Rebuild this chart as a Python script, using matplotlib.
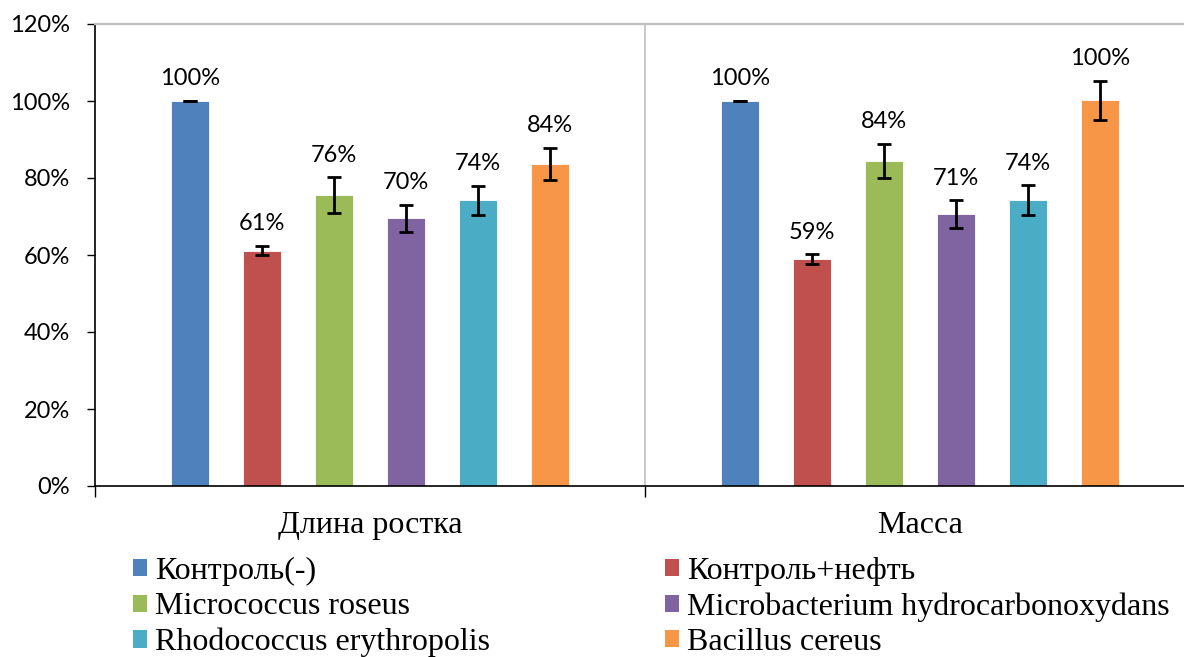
import numpy as np
import matplotlib
matplotlib.use('Agg')
from matplotlib import pyplot as plt
from matplotlib.patches import Patch

categories = ['Длина ростка', 'Масса']
series = ['Контроль(-)', 'Контроль+нефть', 'Micrococcus roseus',
          'Microbacterium hydrocarbonoxydans', 'Rhodococcus erythropolis', 'Bacillus cereus']
colors = ['#4F81BD', '#C0504D', '#9BBB59', '#8064A2', '#4BACC6', '#F79646']

# values, % (rows: series, cols: categories)
values = [[100.0, 100.0],
          [61.1, 58.9],
          [75.6, 84.4],
          [69.6, 70.6],
          [74.2, 74.3],
          [83.6, 100.2]]
errors = [[0.0, 0.0],
          [1.2, 1.3],
          [4.6, 4.5],
          [3.5, 3.6],
          [3.8, 3.8],
          [4.2, 5.1]]
yticks = [0, 20, 40, 60, 80, 100, 120]

num_font = 'Lato'
txt_font = 'Liberation Serif'

fig = plt.figure(figsize=(11.84, 6.57), dpi=100)
W, H = 1184, 657
ax = fig.add_axes([95 / W, (H - 486) / H, 1100 / W, 462 / H])

x = np.arange(len(categories))
slot = 72 / 550
width = 38 / 550
for i, name in enumerate(series):
    xs = x + (i - 2.5) * slot
    ax.bar(xs, values[i], width, color=colors[i], edgecolor='white', linewidth=0.6, zorder=2)
    ax.errorbar(xs, values[i], yerr=errors[i], fmt='none', ecolor='black',
                elinewidth=2, capsize=5, capthick=2, zorder=3)
    for xv, v, e in zip(xs, values[i], errors[i]):
        ax.annotate('{:.0f}%'.format(v), (xv, v + e), xytext=(0, 16), textcoords='offset points',
                    ha='center', va='center', fontsize=17, family=num_font)

ax.set_xlim(-0.5, 1.5)
ax.set_ylim(0, 120)
ax.set_yticks(yticks)
ax.set_yticklabels(['{}%'.format(t) for t in yticks], family=num_font, fontsize=17)
ax.tick_params(axis='y', direction='out', length=6, width=1, pad=12)

ax.set_xticks(x)
ax.set_xticklabels(categories, family=txt_font, fontsize=23)
ax.tick_params(axis='x', which='major', length=0, pad=18)
ax.set_xticks([-0.5, 0.5, 1.5], minor=True)
ax.tick_params(axis='x', which='minor', direction='out', length=8, width=1)

ax.axvline(0.5, color='#BFBFBF', linewidth=1.2, zorder=1)
ax.spines['top'].set_color('#BFBFBF')
ax.spines['top'].set_linewidth(1.6)
ax.spines['right'].set_visible(False)
ax.spines['left'].set_linewidth(1.2)
ax.spines['bottom'].set_linewidth(1.2)

handles = [Patch(facecolor=c) for c in colors]
leg_kw = dict(loc='upper left', frameon=False, prop={'family': txt_font, 'size': 23},
              handlelength=0.45, handleheight=0.45, handletextpad=0.25,
              labelspacing=0.2, borderpad=0, borderaxespad=0)
fig.legend([handles[i] for i in (0, 2, 4)], [series[i] for i in (0, 2, 4)],
           bbox_to_anchor=(133 / W, (H - 557) / H), **leg_kw)
fig.legend([handles[i] for i in (1, 3, 5)], [series[i] for i in (1, 3, 5)],
           bbox_to_anchor=(665 / W, (H - 557) / H), **leg_kw)

fig.savefig('out.png', dpi=100)
